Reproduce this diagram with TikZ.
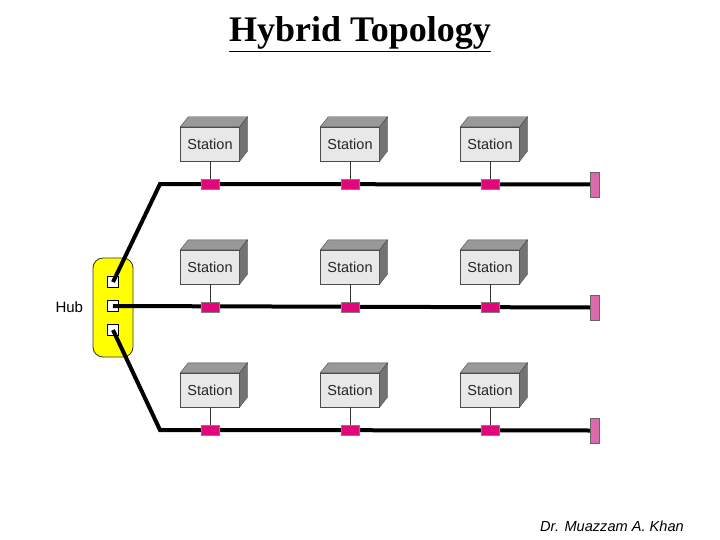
\documentclass[tikz,border=0pt]{standalone}
\usepackage{fontspec}
\setmainfont{Liberation Serif}
\setsansfont{Liberation Sans}
\usetikzlibrary{positioning}
\definecolor{tapred}{HTML}{E0077A}
\definecolor{termpink}{HTML}{DB6AAA}
\definecolor{hubyellow}{HTML}{FFFF00}
\begin{document}
\begin{tikzpicture}[
    x=1pt, y=-1pt,
    station/.style={
        draw=black!70,
        fill=black!9,
        minimum width=59pt,
        minimum height=34pt,
        inner sep=0pt,
        text=black!85,
        font=\sffamily\fontsize{14.5}{14.5}\selectfont
    },
    tap/.style={draw=black!50, fill=tapred, minimum width=18pt, minimum height=10pt, inner sep=0pt},
    term/.style={draw=black!60, fill=termpink, minimum width=9pt, minimum height=25pt, inner sep=0pt},
    port/.style={draw=black, fill=white, line width=1pt, minimum size=11pt, inner sep=0pt},
    bus/.style={line width=4pt},
    drop/.style={thin, black!80}
]
\useasboundingbox (0,0) rectangle (720,540);

% title and credit
\node[font=\bfseries\fontsize{36}{36}\selectfont] (title) at (360,34) {\underline{Hybrid Topology}};
\node[font=\sffamily\itshape\fontsize{14.6}{14.6}\selectfont] (credit) at (612,526) {Dr. Muazzam A. Khan};

% hub
\node[draw=black!80, fill=hubyellow, line width=0.8pt, rounded corners=10pt, minimum width=40pt, minimum height=99pt] (hub) at (113,307.5) {};
\node[port] (p1) at (113,282) {};
\node[port] (p2) at (113,306) {};
\node[port] (p3) at (113,330) {};
\node[font=\sffamily\fontsize{15}{15}\selectfont, left=6pt of hub] (hubl) {Hub};

% terminators and bends
\node[term] (t1) at (594.5,184.5) {};
\node[term] (t2) at (594.5,307.5) {};
\node[term] (t3) at (594.5,430.5) {};
\coordinate (c1) at (160,184);
\coordinate (c3) at (160,430);

\draw[bus] (p1.center) -- (c1) -- (t1.west);
\draw[bus] (p2.center) -- (t2.west);
\draw[bus] (p3.center) -- (c3) -- (t3.west);

% stations
\foreach \r/\y/\b in {1/144/184, 2/267/307, 3/390/430} {
  \foreach \c/\x in {1/210, 2/350, 3/490} {
    \node[station] (s\r\c) at (\x,\y) {Station};
    \draw[draw=black!70, fill=black!40] (s\r\c.north west) -- ++(8,-10) -- ++(59,0) -- (s\r\c.north east) -- cycle;
    \draw[draw=black!70, fill=black!55] (s\r\c.north east) -- ++(8,-10) -- ++(0,34) -- (s\r\c.south east) -- cycle;
    \node[tap] (k\r\c) at (\x,\b) {};
    \draw[drop] (s\r\c.south) -- (k\r\c.north);
  }
}
\end{tikzpicture}
\end{document}
